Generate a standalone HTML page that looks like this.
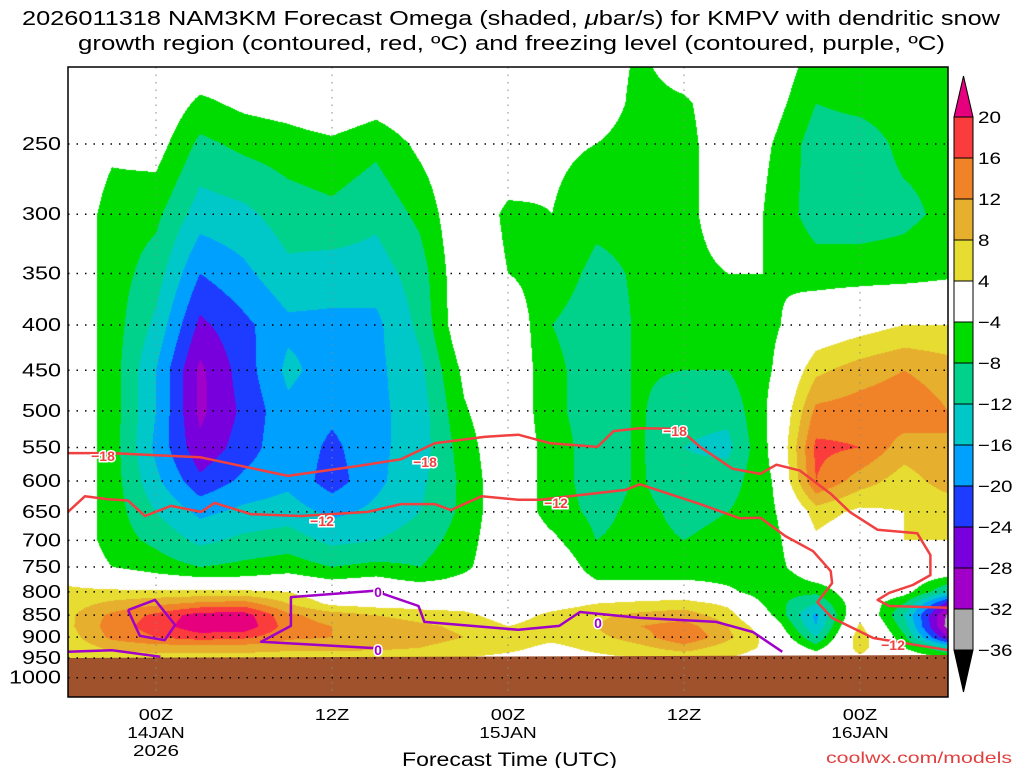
<!DOCTYPE html>
<html><head><meta charset="utf-8"><style>
body{margin:0;background:#fff;width:1024px;height:768px;overflow:hidden;font-family:"Liberation Sans",sans-serif}
#wrap{position:relative;width:1024px;height:768px}
canvas{position:absolute;left:0;top:0}
svg{position:absolute;left:0;top:0}
</style></head><body>
<div id="wrap">
<canvas id="cv" width="1024" height="768"></canvas>
<svg id="sv" width="1024" height="768"></svg>
</div>
<script>
const hours=[0,3,6,9,12,15,18,21,24,27,30,33,36,39,42,45,48,51,54,57,60];
const levels=[200,225,250,300,350,400,450,500,550,600,650,700,750,775,800,825,850,875,900,925,950,1000];
const omega=[
[0,0,0,0,0,0,0,0,0,0,0,0,0,3,5,6,7,7,6,5,4,4],
[0,0,-3,-6,-6,-6,-6,-6,-6,-6,-6,-6,-4,0,5,9,13,14,13,9,6,6],
[0,0,-2,-7,-10,-13,-16,-16,-17,-15,-12,-9,-6,-2,5,11,17,18,16,10,6,6],
[0,-5,-9,-14,-20,-25,-29,-29,-27,-23,-17,-13,-8,-3,5,13,22,23,18,10,6,6],
[0,-3,-7,-13,-17,-21,-22,-23,-22,-19,-15,-11,-7,-3,5,14,22,23,17,10,6,6],
[0,-2,-6,-10,-13,-17,-15,-17,-17,-17,-14,-10,-6,-2,4,8,13,14,13,9,6,6],
[0,0,-5,-9,-14,-17,-18,-19,-21,-22,-17,-13,-8,-4,0,3,10,12,12,9,6,6],
[0,-2,-7,-11,-14,-17,-17,-17,-17,-17,-15,-12,-7,-3,0,2,8,11,11,9,5,5],
[0,0,-3,-7,-10,-11,-13,-14,-14,-13,-12,-10,-8,-5,0,2,6,9,10,8,5,5],
[0,0,0,0,0,0,-3,-4.5,-6,-7,-7,-6,-5,-3,0,2,5,7,8,6,4,4],
[0,0,0,-5,-4,0,0,0,0,0,0,0,0,0,0,0,2,4,6,5,3,3],
[0,0,-3,-4,-6,-8,-7,-7,-6,-6,-6,-3,0,0,0,2,5,6,5,3,2,2],
[0,0,-4,-7,-9,-10,-10,-10,-10,-10,-9,-8,-6,-4,0,4,7,8,7,5,3,3],
[-5,-6,-7,-7,-7.5,-7.5,-7.5,-7.5,-7.5,-7.5,-7,-7,-6,-4,0,5,9,12,10,7,4,4],
[0,-5,-6,-6,-6,-6,-8,-11,-12,-11,-9,-8,-6,-4,0,6,10,14,16,10,5,5],
[0,0,0,0,-4,-6,-8,-11,-13,-10,-8,-7,-6,-5,-3,3,6,8,9,6,4,4],
[0,-2,-4,-5,-4,-5,-4,-3,-3,-4,-5,-6,-6,-7,-7,-6,-4,0,2,3,2,2],
[-6,-8,-10,-10,-6,0,7,13,17,16,6,3,0,-3,-7,-12,-17,-16,-12,-6,0,0],
[-6,-7,-10,-10,-6,2,10,14,16,10,3,0,0,0,0,0,2,5,7,6,3,3],
[-6,-6,-7,-9,-6,4,12,15,10,6,4,4,2,0,-2,-8,-12,-10,-7,-4,0,0],
[-6,-6,-7,-7,-5,4,10,12,12,10,5,4,3,-6,-12,-26,-33,-34,-28,-12,-4,0]];
const line18Hours=[0,2.93,9.0,15.0,19.77,22.7,25.0,28.4,30.7,32.9,36.1,37.2,39.0,41.7,43.1,45.3,47.2,48.3,49.9,52.0,53.3,55.2,57.9,58.8,58.8,57.6,56.0,55.2,56.0,60];
const line18Press=[558,558,564,592,577,567,544,535,532,544,549,527,523,524,549,581,589,575,584,620,650,681,687,727,766,786,802,817,830,834];
const line12Hours=[0,1.16,2.73,4.09,5.25,7.02,9.07,10.0,12.48,15.89,20.45,22.7,25.0,26.1,28.2,30.7,32.2,34.2,38.0,39.0,43.1,45.8,47.2,48.9,50.8,52.0,52.1,51.1,52.1,54.9,56.7,60];
const line12Press=[650,624,629,631,657,640,650,635,654,657,650,637,637,647,624,630,630,624,614,605,637,661,660,692,720,758,782,822,856,902,912,931];
const line0AHours=[20.9,13.16,15.2,15.2,20.9,23.9,24.3,30.7,33.5,34.9,39.0,44.2,46.7,48.7];
const line0APress=[926,911,874,811,798,830,865,883,874,843,856,865,888,935];
const line0BHours=[0,3,6.3];
const line0BPress=[935,931,947];
const line0CHours=[4.09,5.93,7.3,6.6,4.9,4.09];
const line0CPress=[839,817,872,907,897,839];
const pressTicks=[250,300,350,400,450,500,550,600,650,700,750,800,850,900,950,1000];
const timeTicks=[6,18,30,42,54];
const timeLabels=[["00Z","14JAN","2026"],["12Z"],["00Z","15JAN"],["12Z"],["00Z","16JAN"]];
const cbLevels=[20,16,12,8,4,-4,-8,-12,-16,-20,-24,-28,-32,-36];
const cbColors=["#e6007e","#fa3c3c","#f08228","#e6af2d","#e6dc32","#ffffff","#00dc00","#00d28c","#00c8c8","#00a0ff","#1e3cff","#7800dc","#a000c8","#aaaaaa","#000000"];

const X0=68,X1=948,Y0=67,Y1=697;
const xs=h=>X0+(h/60)*(X1-X0);
const ys=p=>144+385*Math.log(p/250);
const pFromY=y=>250*Math.exp((y-144)/385);
function hex(c){return [parseInt(c.slice(1,3),16),parseInt(c.slice(3,5),16),parseInt(c.slice(5,7),16)];}
const rgb=cbColors.map(hex);
function idx(v){for(let i=0;i<cbLevels.length;i++){if(v>=cbLevels[i])return i;}return cbLevels.length;}

const cv=document.getElementById('cv');const ctx=cv.getContext('2d');
ctx.fillStyle='#fff';ctx.fillRect(0,0,1024,768);
const W=X1-X0,H=Y1-Y0;const img=ctx.createImageData(W,H);
const lnl=levels.map(Math.log);
for(let py=0;py<H;py++){
 const lp=Math.log(pFromY(Y0+py+0.5));
 let j=0;while(j<levels.length-2&&lnl[j+1]<lp)j++;
 let fy=(lp-lnl[j])/(lnl[j+1]-lnl[j]);fy=Math.max(0,Math.min(1,fy));
 for(let px=0;px<W;px++){
  const h=(px+0.5)/W*60;let i=Math.min(hours.length-2,Math.floor(h/3));
  const fx=(h-hours[i])/(hours[i+1]-hours[i]);
  const v=(1-fx)*((1-fy)*omega[i][j]+fy*omega[i][j+1])+fx*((1-fy)*omega[i+1][j]+fy*omega[i+1][j+1]);
  const c=rgb[idx(v)];const k=(py*W+px)*4;
  img.data[k]=c[0];img.data[k+1]=c[1];img.data[k+2]=c[2];img.data[k+3]=255;
 }
}
ctx.putImageData(img,X0,Y0);

const NS='http://www.w3.org/2000/svg';const sv=document.getElementById('sv');
function el(t,a,txt){const e=document.createElementNS(NS,t);for(const k in a)e.setAttribute(k,a[k]);if(txt!==undefined)e.textContent=txt;sv.appendChild(e);return e;}
const g=el('polygon',{points:`${X0},658 ${X1},655 ${X1},${Y1} ${X0},${Y1}`,fill:'#a0522d'});


pressTicks.forEach(p=>{
 const y=ys(p);
 const gl=el('line',{x1:X0,x2:X1,y1:y,y2:y,stroke:'#000','stroke-width':1.5,'stroke-dasharray':'1.5 7'});
 
 
 const s=String(p);
 const t=el('text',{x:61,y:y+6,'text-anchor':'end','font-size':18,fill:'#000',textLength:s.length*13,lengthAdjust:'spacingAndGlyphs'},s);
 
 
});
timeTicks.forEach(h=>{const x=xs(h);
 const vl=el('line',{x1:x,x2:x,y1:Y0,y2:Y1,stroke:'#888','stroke-width':1,'stroke-dasharray':'1.5 6'});
 
 });
function poly(hs,ps,col,name){
 const pts=hs.map((h,i)=>xs(h).toFixed(1)+','+ys(ps[i]).toFixed(1)).join(' ');
 const l=el('polyline',{points:pts,fill:'none',stroke:col,'stroke-width':2.5,'stroke-linejoin':'round'});
 
 
}
poly(line18Hours,line18Press,'#f04040','contour-minus18');
poly(line12Hours,line12Press,'#f04040','contour-minus12');
poly(line0AHours,line0APress,'#a000c8','freezing-level-0');
poly(line0BHours,line0BPress,'#a000c8','freezing-level-0-low');
poly(line0CHours,line0CPress,'#a000c8','freezing-level-0-loop');
function lab(x,y,t,c,n){
 const e=el('text',{x:x,y:y+5,'text-anchor':'middle','font-size':14,'font-weight':'bold',fill:c,stroke:'#fff','stroke-width':3,'paint-order':'stroke'},t);
 
 }
lab(103,456,'\u221218','#f04040','contour-label');lab(425,462,'\u221218','#f04040','contour-label');lab(675,431,'\u221218','#f04040','contour-label');
lab(322,521,'\u221212','#f04040','contour-label');lab(556,503,'\u221212','#f04040','contour-label');lab(893,645,'\u221212','#f04040','contour-label');
lab(378,592,'0','#a000c8','contour-label');lab(598,623,'0','#a000c8','contour-label');lab(378,650,'0','#a000c8','contour-label');
const fr=el('rect',{x:X0,y:Y0,width:X1-X0,height:Y1-Y0,fill:'none',stroke:'#000','stroke-width':1.5});


timeTicks.forEach((h,i)=>{timeLabels[i].forEach((s,k)=>{
 const t=el('text',{x:xs(h),y:720+k*18,'text-anchor':'middle','font-size':16,fill:'#000',textLength:s.length*11.5,lengthAdjust:'spacingAndGlyphs'},s);
 
 });});
const cbx=954,cbw=19,cbTop=117,cbStep=41.0;
const tri=el('polygon',{points:`${cbx},${cbTop} ${cbx+cbw},${cbTop} ${cbx+cbw/2},76`,fill:cbColors[0],stroke:'#000'});


for(let i=0;i<cbLevels.length-1;i++){
 const r=el('rect',{x:cbx,y:cbTop+i*cbStep,width:cbw,height:cbStep,fill:cbColors[i+1],stroke:'#000'});
 
 
}
const yb=cbTop+(cbLevels.length-1)*cbStep;
const tri2=el('polygon',{points:`${cbx},${yb} ${cbx+cbw},${yb} ${cbx+cbw/2},692`,fill:'#000',stroke:'#000'});


cbLevels.forEach((v,i)=>{const s=String(v).replace('-','\u2212');
 const t=el('text',{x:978,y:cbTop+i*cbStep+6,'font-size':17,fill:'#000',textLength:s.length*11.5,lengthAdjust:'spacingAndGlyphs'},s);
 
 });
const t1=el('text',{x:22,y:25,'font-size':20,fill:'#000',textLength:978,lengthAdjust:'spacingAndGlyphs'});
t1.innerHTML='2026011318 NAM3KM Forecast Omega (shaded, <tspan font-style="italic">μ</tspan>bar/s) for KMPV with dendritic snow';


const t2=el('text',{x:78,y:50,'font-size':20,fill:'#000',textLength:867,lengthAdjust:'spacingAndGlyphs'},'growth region (contoured, red, ºC) and freezing level (contoured, purple, ºC)');


const xt=el('text',{x:402,y:766,'font-size':19,fill:'#000',textLength:215,lengthAdjust:'spacingAndGlyphs'},'Forecast Time (UTC)');


const cr=el('text',{x:826,y:763,'font-size':16,fill:'#e04040',textLength:186,lengthAdjust:'spacingAndGlyphs'},'coolwx.com/models');


</script>
</body></html>
